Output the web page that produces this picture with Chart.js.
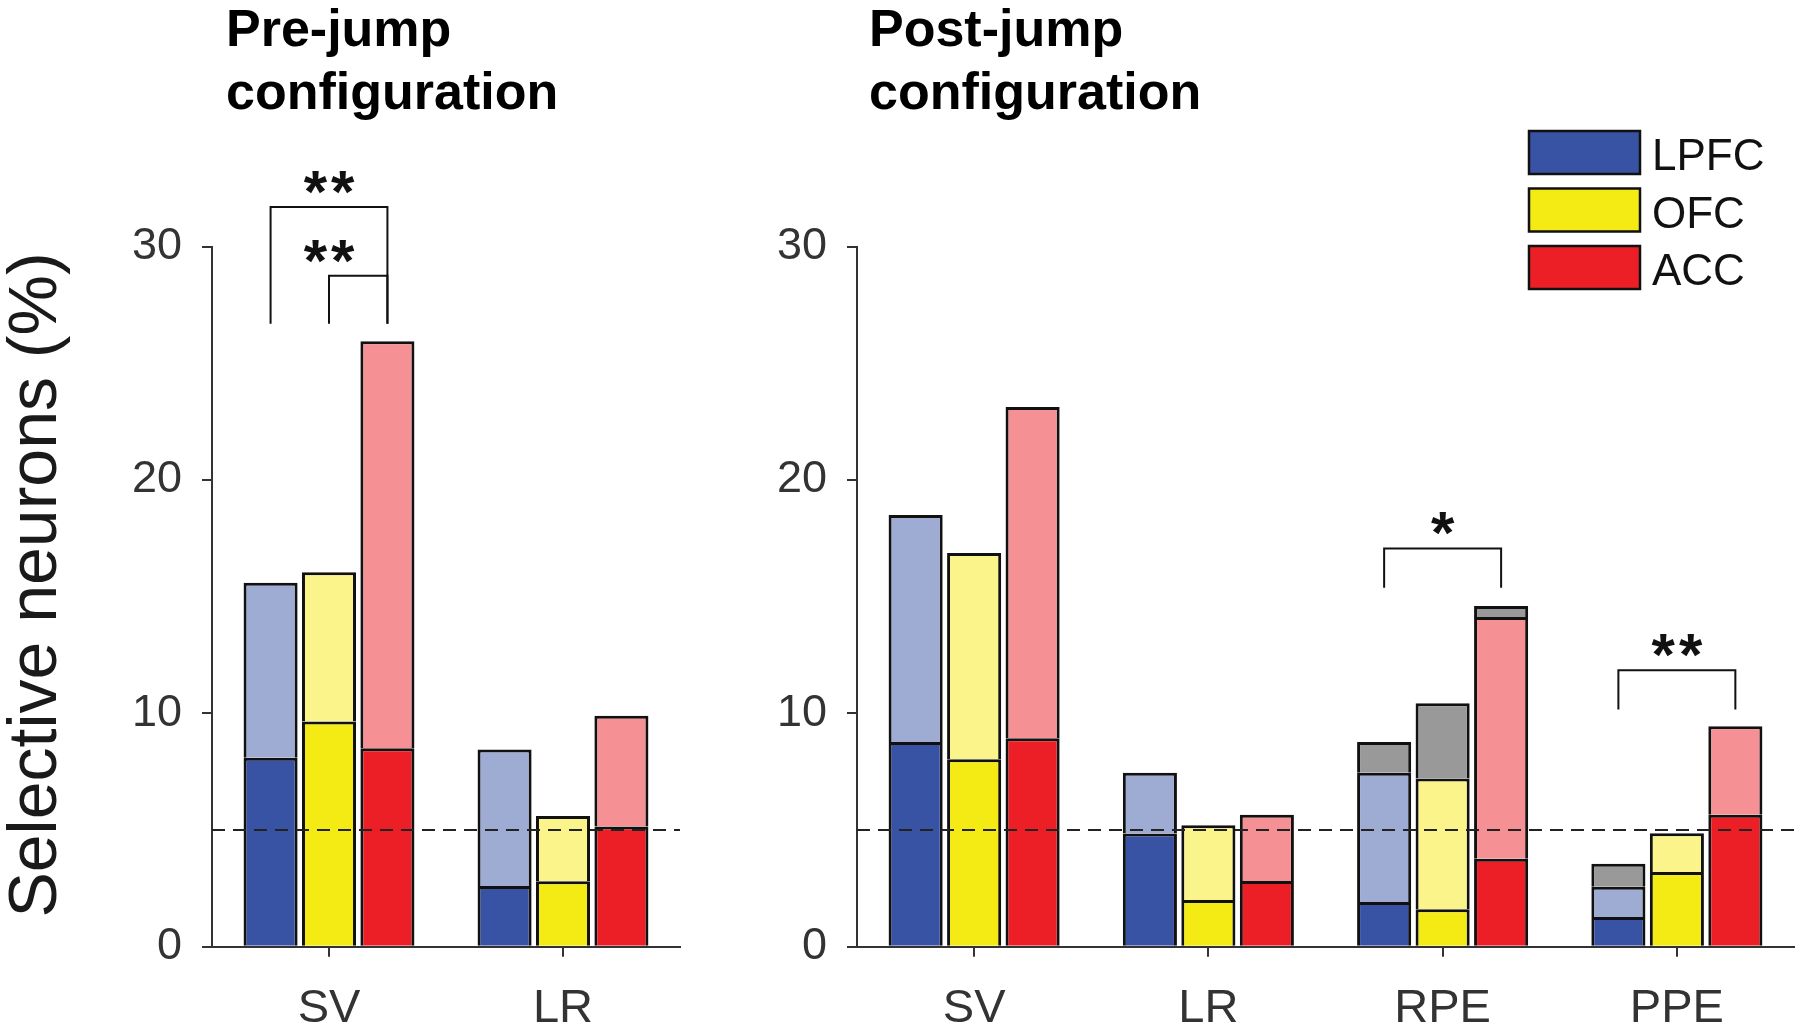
<!DOCTYPE html>
<html>
<head>
<meta charset="utf-8">
<title>Selective neurons</title>
<script src="https://cdn.jsdelivr.net/npm/chart.js@4.4.1/dist/chart.umd.min.js"></script>
<style>
  body { margin: 0; background: #fff; }
  #wrap { position: relative; width: 1800px; height: 1032px; }
  canvas { position: absolute; top: 0; }
  #pre { left: 0; }
  #post { left: 700px; }
</style>
</head>
<body>
<div id="wrap">
  <canvas id="pre" width="700" height="1032"></canvas>
  <canvas id="post" width="1100" height="1032"></canvas>
</div>
<script>
// values (% selective neurons), cumulative tops of each segment
var areaNames = ['LPFC', 'OFC', 'ACC'];

var preLabels = ['SV', 'LR'];
var preLpfcDark = [8.1, 2.6];
var preLpfcTotal = [15.6, 8.45];
var preLpfcGrey = [null, null];
var preOfcDark = [9.65, 2.8];
var preOfcTotal = [16.05, 5.6];
var preOfcGrey = [null, null];
var preAccDark = [8.5, 5.15];
var preAccTotal = [25.95, 9.9];
var preAccGrey = [null, null];

var postLabels = ['SV', 'LR', 'RPE', 'PPE'];
var postLpfcDark = [8.77, 4.85, 1.92, 1.27];
var postLpfcTotal = [18.5, 7.46, 7.45, 2.57];
var postLpfcGrey = [null, null, 8.77, 3.56];
var postOfcDark = [8.03, 2.0, 1.61, 3.2];
var postOfcTotal = [16.87, 5.21, 7.21, 4.86];
var postOfcGrey = [null, null, 10.43, null];
var postAccDark = [8.93, 2.82, 3.77, 5.65];
var postAccTotal = [23.13, 5.66, 14.13, 9.45];
var postAccGrey = [null, null, 14.6, null];

var yTicks = [0, 10, 20, 30];
var chanceLevel = 5;

// significance brackets: category, from area, to area, top (y units), leg bottom, label
var preSigCat = [0, 0];
var preSigFrom = [0, 1];
var preSigTo = [2, 2];
var preSigTop = [31.7, 28.75];
var preSigLeg = [26.7, 26.7];
var preSigText = ['**', '**'];

var postSigCat = [2, 3];
var postSigFrom = [0, 0];
var postSigTo = [2, 2];
var postSigTop = [17.07, 11.85];
var postSigLeg = [15.38, 10.17];
var postSigText = ['*', '**'];

var darkColors = ['#3953a4', '#f4ea14', '#ec1f27'];
var lightColors = ['#9eabd3', '#faf48b', '#f59194'];
var greyColor = '#999999';
var FONT = "'Liberation Sans', Arial, Helvetica, sans-serif";

Chart.defaults.font.family = FONT;

function diff(top, below) {
    return top.map(function (v, i) {
        if (v == null) return null;
        return +(v - below[i]).toFixed(3);
    });
}

function buildDatasets(darks, tops, greys) {
    var sets = [];
    for (var a = 0; a < 3; a++) {
        var common = {
            stack: 's' + a,
            borderColor: '#111',
            borderWidth: 3,
            barPercentage: 0.925,
            categoryPercentage: 0.749
        };
        sets.push(Object.assign({ label: areaNames[a], data: darks[a], backgroundColor: darkColors[a] }, common));
        sets.push(Object.assign({ label: areaNames[a] + ' all', data: diff(tops[a], darks[a]), backgroundColor: lightColors[a] }, common));
        sets.push(Object.assign({ label: areaNames[a] + ' other', data: diff(greys[a], tops[a]), backgroundColor: greyColor }, common));
    }
    return sets;
}

// dashed chance line, brackets, titles and legend
function extras(cfg) {
    return {
        id: 'extras',
        afterDatasetsDraw: function (chart) {
            var ctx = chart.ctx, area = chart.chartArea, y = chart.scales.y, x = chart.scales.x;
            ctx.save();
            var yc = y.getPixelForValue(chanceLevel);
            ctx.strokeStyle = '#222';
            ctx.lineWidth = 2;
            ctx.setLineDash([13, 8]);
            ctx.beginPath();
            ctx.moveTo(area.left, yc);
            ctx.lineTo(area.right, yc);
            ctx.stroke();
            ctx.setLineDash([]);

            ctx.strokeStyle = '#111';
            ctx.fillStyle = '#111';
            ctx.textAlign = 'center';
            ctx.textBaseline = 'alphabetic';
            ctx.font = 'bold 60px ' + FONT;
            ctx.letterSpacing = '4px';
            for (var i = 0; i < cfg.sigCat.length; i++) {
                var c = cfg.sigCat[i];
                var x1 = chart.getDatasetMeta(cfg.sigFrom[i] * 3).data[c].x;
                var x2 = chart.getDatasetMeta(cfg.sigTo[i] * 3).data[c].x;
                var yt = y.getPixelForValue(cfg.sigTop[i]);
                var yl = y.getPixelForValue(cfg.sigLeg[i]);
                ctx.lineWidth = 2;
                ctx.beginPath();
                ctx.moveTo(x1, yl);
                ctx.lineTo(x1, yt);
                ctx.lineTo(x2, yt);
                ctx.lineTo(x2, yl);
                ctx.stroke();
                ctx.fillText(cfg.sigText[i], x.getPixelForValue(c) + 2, yt - 30 + 0.58 * 60);
            }
            ctx.restore();
        },
        afterDraw: function (chart) {
            var ctx = chart.ctx;
            ctx.save();
            ctx.fillStyle = '#000';
            ctx.textAlign = 'left';
            ctx.textBaseline = 'alphabetic';
            ctx.font = 'bold 52px ' + FONT;
            ctx.fillText(cfg.title[0], cfg.titleX, 46);
            ctx.fillText(cfg.title[1], cfg.titleX, 109);
            if (cfg.yTitle) {
                // axis title drawn by hand so it can sit a bit above the axis centre like the original
                ctx.save();
                ctx.translate(37, 585);
                ctx.rotate(-Math.PI / 2);
                ctx.textAlign = 'center';
                ctx.textBaseline = 'middle';
                ctx.fillStyle = '#1a1a1a';
                ctx.font = '68px ' + FONT;
                ctx.fillText('Selective neurons (%)', 0, 0);
                ctx.restore();
            }
            if (cfg.legend) {
                ctx.font = '44px ' + FONT;
                ctx.textBaseline = 'middle';
                for (var a = 0; a < 3; a++) {
                    var top = 131 + a * 57.5;
                    ctx.fillStyle = darkColors[a];
                    ctx.fillRect(829, top, 111, 43);
                    ctx.strokeStyle = '#111';
                    ctx.lineWidth = 2.5;
                    ctx.strokeRect(829, top, 111, 43);
                    ctx.fillStyle = '#111';
                    ctx.fillText(areaNames[a], 952, top + 27);
                }
            }
            ctx.restore();
        }
    };
}

function makeChart(id, labels, datasets, cfg) {
    return new Chart(document.getElementById(id), {
        type: 'bar',
        data: { labels: labels, datasets: datasets },
        options: {
            responsive: false,
            animation: false,
            layout: { padding: { left: 0, right: cfg.padRight, top: 246.7, bottom: 0 } },
            plugins: { legend: { display: false }, tooltip: { enabled: false } },
            scales: {
                x: {
                    stacked: true,
                    grid: { drawOnChartArea: false, tickLength: 10, offset: false, color: '#333', lineWidth: 2 },
                    border: { color: '#333', width: 2 },
                    ticks: { color: '#333', font: { size: 47 }, padding: 24 },
                    afterFit: function (s) { s.height = 85.3; }
                },
                y: {
                    stacked: true,
                    min: 0,
                    max: 30,
                    afterBuildTicks: function (s) { s.ticks = yTicks.map(function (v) { return { value: v }; }); },
                    ticks: { color: '#333', font: { size: 45 }, padding: 20 },
                    grid: { drawOnChartArea: false, tickLength: 10, color: '#333', lineWidth: 2 },
                    border: { color: '#333', width: 2 },
                    afterFit: function (s) { s.width = cfg.yWidth; }
                }
            }
        },
        plugins: [extras(cfg)]
    });
}

makeChart('pre', preLabels,
    buildDatasets([preLpfcDark, preOfcDark, preAccDark],
                  [preLpfcTotal, preOfcTotal, preAccTotal],
                  [preLpfcGrey, preOfcGrey, preAccGrey]),
    {
        padRight: 20, yWidth: 212, yTitle: true,
        title: ['Pre-jump', 'configuration'], titleX: 226, legend: false,
        sigCat: preSigCat, sigFrom: preSigFrom, sigTo: preSigTo,
        sigTop: preSigTop, sigLeg: preSigLeg, sigText: preSigText
    });

makeChart('post', postLabels,
    buildDatasets([postLpfcDark, postOfcDark, postAccDark],
                  [postLpfcTotal, postOfcTotal, postAccTotal],
                  [postLpfcGrey, postOfcGrey, postAccGrey]),
    {
        padRight: 6, yWidth: 157, yTitle: false,
        title: ['Post-jump', 'configuration'], titleX: 169, legend: true,
        sigCat: postSigCat, sigFrom: postSigFrom, sigTo: postSigTo,
        sigTop: postSigTop, sigLeg: postSigLeg, sigText: postSigText
    });
</script>
</body>
</html>
